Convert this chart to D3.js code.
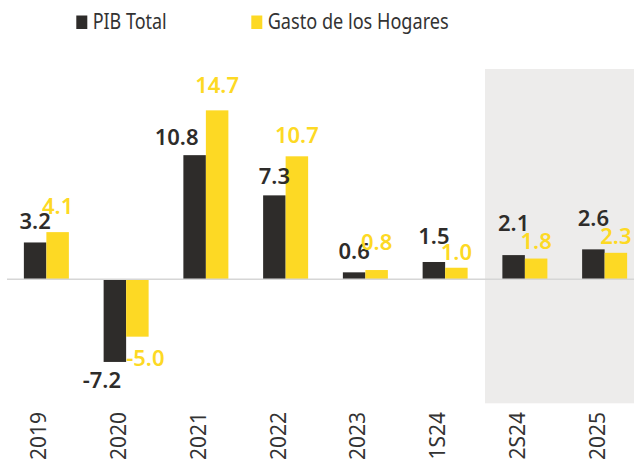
<!DOCTYPE html>
<html>
<head>
<meta charset="utf-8">
<script src="https://cdn.jsdelivr.net/npm/d3@7"></script>
<style>
  body { margin: 0; background: #fff; }
  text { font-family: "Noto Sans", sans-serif; }
</style>
</head>
<body>
<svg id="chart" width="634" height="463"></svg>
<script>
// Data
var periods = ["2019", "2020", "2021", "2022", "2023", "1S24", "2S24", "2025"];
var pibTotal = [3.2, -7.2, 10.8, 7.3, 0.6, 1.5, 2.1, 2.6];
var gastoHogares = [4.1, -5.0, 14.7, 10.7, 0.8, 1.0, 1.8, 2.3];
var forecastPeriods = ["2S24", "2025"];
var seriesNames = ["PIB Total", "Gasto de los Hogares"];

// label nudges (hand placed in the original) [dx, dy]
var pibNudge = [[0, -1], [-13, 0], [-18, 2], [0, 1], [0, -1], [0, -6], [0, -12], [0, -11]];
var gastoNudge = [[0, -6], [8, 3], [0, -5], [0, -1], [0, -8], [0, 4], [0, 2], [0, 3]];

var dark = "#2e2c2a";
var yellow = "#fdd924";

var svg = d3.select("#chart");

var x = d3.scaleBand()
    .domain(periods)
    .range([6.5, 644.5]);

var y = d3.scaleLinear()
    .domain([-10.8, 18.3])
    .range([403.3, 69]);

var barW = 22.5;

// Shaded forecast area
svg.append("rect")
    .attr("x", x(forecastPeriods[0]))
    .attr("y", y.range()[1])
    .attr("width", 634 - x(forecastPeriods[0]))
    .attr("height", y.range()[0] - y.range()[1])
    .attr("fill", "#edeceb");

function center(p) { return x(p) + x.bandwidth() / 2; }

var series = [
  { name: seriesNames[0], values: pibTotal, color: dark, off: -barW, nudge: pibNudge },
  { name: seriesNames[1], values: gastoHogares, color: yellow, off: 0, nudge: gastoNudge }
];

series.forEach(function(s) {
  svg.append("g").selectAll("rect")
    .data(s.values)
    .enter().append("rect")
      .attr("x", function(d, i) { return center(periods[i]) + s.off; })
      .attr("y", function(d) { return y(Math.max(0, d)); })
      .attr("width", barW)
      .attr("height", function(d) { return Math.abs(y(d) - y(0)); })
      .attr("fill", s.color);
});

// zero line
svg.append("line")
    .attr("x1", 7).attr("x2", 634)
    .attr("y1", y(0)).attr("y2", y(0))
    .attr("stroke", "#d6d6d6")
    .attr("stroke-width", 1.5);

// value labels
series.forEach(function(s) {
  svg.append("g").selectAll("text")
    .data(s.values)
    .enter().append("text")
      .attr("x", function(d, i) { return center(periods[i]) + s.off + barW / 2 + s.nudge[i][0]; })
      .attr("y", function(d, i) {
        return (d >= 0 ? y(d) - 12 : y(d) + 26) + s.nudge[i][1];
      })
      .attr("text-anchor", "middle")
      .style("font-size", "22px")
      .style("font-weight", 600)
      .style("fill", s.color)
      .text(function(d) { return d.toFixed(1); });
});

// x axis labels, rotated
svg.append("g").selectAll("text")
  .data(periods)
  .enter().append("text")
    .attr("transform", function(d) { return "translate(" + center(d) + ",412) rotate(-90)"; })
    .attr("text-anchor", "end")
    .style("font-size", "21px")
    .style("fill", "#333")
    .text(function(d) { return d; });

// legend
var legendX = [76.3, 251.3];
var legendW = [74, 181];
series.forEach(function(s, i) {
  svg.append("rect")
      .attr("x", legendX[i]).attr("y", 15.5)
      .attr("width", 11).attr("height", 13.5)
      .attr("fill", s.color);
  svg.append("text")
      .attr("x", legendX[i] + 16.4)
      .attr("y", 29)
      .attr("textLength", legendW[i])
      .attr("lengthAdjust", "spacingAndGlyphs")
      .style("font-size", "21px")
      .style("fill", "#333")
      .text(s.name);
});
</script>
</body>
</html>
